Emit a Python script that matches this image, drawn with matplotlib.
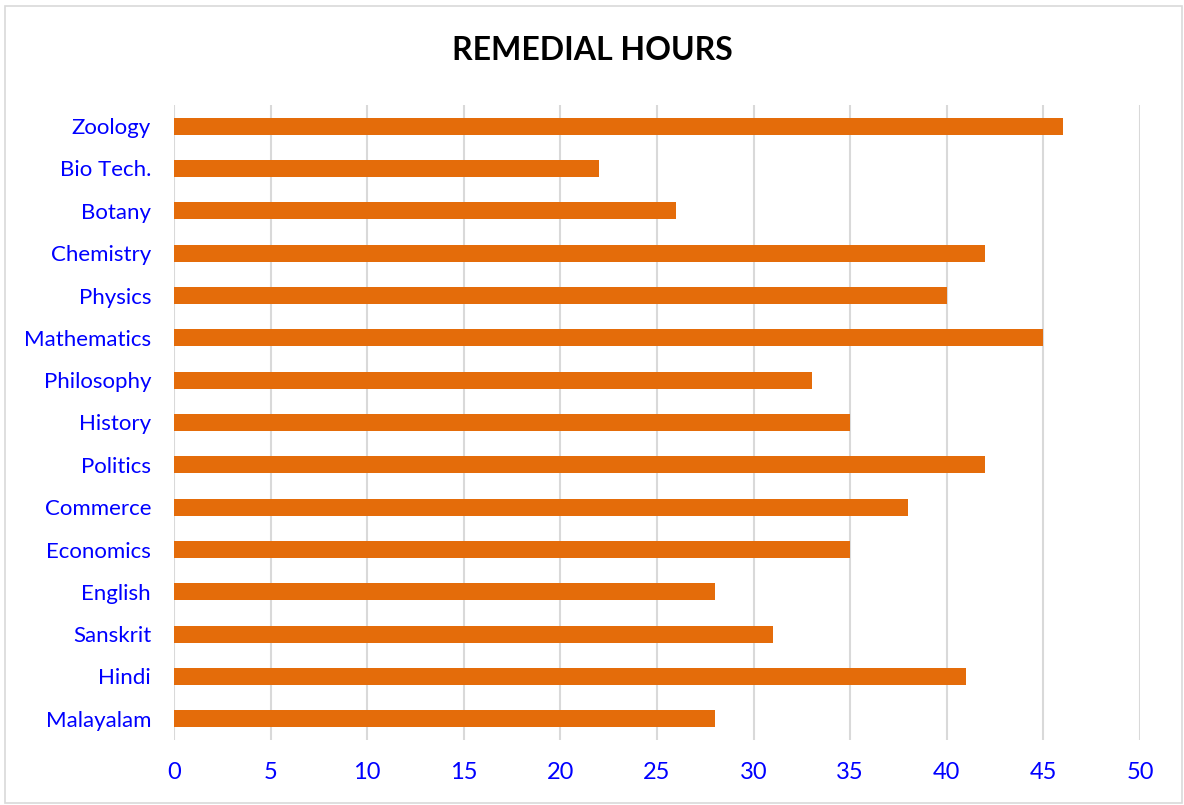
import matplotlib
matplotlib.use("Agg")
import matplotlib.pyplot as plt
from matplotlib.patches import Rectangle

subjects = ["Malayalam", "Hindi", "Sanskrit", "English", "Economics", "Commerce",
            "Politics", "History", "Philosophy", "Mathematics", "Physics",
            "Chemistry", "Botany", "Bio Tech.", "Zoology"]
hours = [28, 41, 31, 28, 35, 38, 42, 35, 33, 45, 40, 42, 26, 22, 46]
xticks = [0, 5, 10, 15, 20, 25, 30, 35, 40, 45, 50]

plt.rcParams['font.family'] = ['Lato', 'DejaVu Sans']

fig = plt.figure(figsize=(11.84, 8.05), dpi=100)
ax = fig.add_axes([174/1184, 1 - 740/805, (1140 - 174)/1184, (740 - 105)/805])

ax.barh(range(len(subjects)), hours, height=0.4, color="#E46C0A", zorder=3)
ax.set_xlim(0, 50)
ax.set_ylim(-0.5, len(subjects) - 0.5)
ax.set_xticks(xticks)
ax.set_xticklabels([str(t) for t in xticks], color="#0000FF", fontsize=17)
ax.set_yticks(range(len(subjects)))
ax.set_yticklabels(subjects, color="#0000FF", fontsize=16)
ax.tick_params(axis='both', length=0)
ax.tick_params(axis='x', pad=16)
ax.tick_params(axis='y', pad=16.5)
ax.grid(axis='x', color="#D9D9D9", linewidth=1.5, zorder=0)
for s in ax.spines.values():
    s.set_visible(False)

fig.text(0.5, 1 - 51/805, "REMEDIAL HOURS", ha='center', va='center',
         fontsize=23, fontweight='bold', color='black')

fig.patches.append(Rectangle((5/1184, 1 - 803/805), 1177/1184, 797/805,
                             transform=fig.transFigure, fill=False,
                             edgecolor="#D9D9D9", linewidth=1.2))

fig.savefig("out.png", dpi=100)
